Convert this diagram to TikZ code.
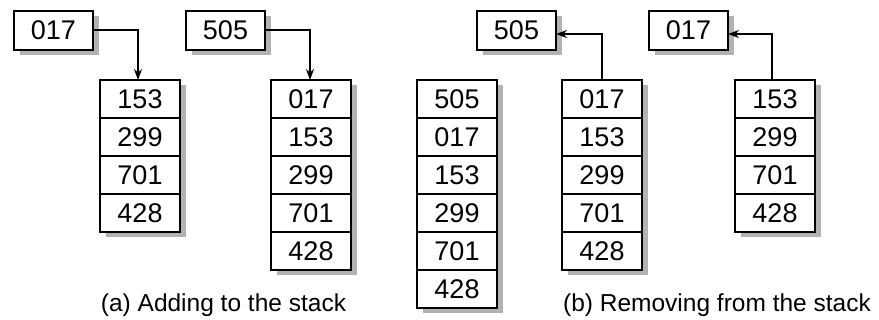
\documentclass[tikz,border=0pt]{standalone}
\usepackage{fontspec}
\setmainfont{Liberation Sans}
\usetikzlibrary{shadows,arrows.meta}
\tikzset{
  cell/.style={draw=black, line width=2.5pt, fill=white, minimum width=80pt, minimum height=38pt,
    inner sep=0pt, outer sep=0pt, font=\fontsize{27}{30}\selectfont,
    drop shadow={shadow xshift=6pt, shadow yshift=-5pt, fill=black!30, opacity=1}},
  topbox/.style={cell, minimum width=79pt, minimum height=39pt},
  conn/.style={draw=black, line width=2.5pt, -{Stealth[length=11pt,width=8pt]}},
  caption/.style={font=\fontsize{24.5}{28}\selectfont, inner sep=0pt}
}
\begin{document}
\begin{tikzpicture}[x=1pt,y=-1pt]
\useasboundingbox (0,0) rectangle (879,320);
% top boxes
\node[topbox] (A1) at (53.5,30.5) {017};
\node[topbox] (A2) at (225.5,30.5) {505};
\node[topbox] (B1) at (516.5,30.5) {505};
\node[topbox] (B2) at (688.5,30.5) {017};
% stack 1
\node[cell] (s1a) at (140,99) {153};
\node[cell] (s1b) at (140,137) {299};
\node[cell] (s1c) at (140,175) {701};
\node[cell] (s1d) at (140,213) {428};
% stack 2
\node[cell] (s2a) at (311,99) {017};
\node[cell] (s2b) at (311,137) {153};
\node[cell] (s2c) at (311,175) {299};
\node[cell] (s2d) at (311,213) {701};
\node[cell] (s2e) at (311,251) {428};
% stack 3
\node[cell] (s3a) at (457,99) {505};
\node[cell] (s3b) at (457,137) {017};
\node[cell] (s3c) at (457,175) {153};
\node[cell] (s3d) at (457,213) {299};
\node[cell] (s3e) at (457,251) {701};
\node[cell] (s3f) at (457,289) {428};
% stack 4
\node[cell] (s4a) at (602,99) {017};
\node[cell] (s4b) at (602,137) {153};
\node[cell] (s4c) at (602,175) {299};
\node[cell] (s4d) at (602,213) {701};
\node[cell] (s4e) at (602,251) {428};
% stack 5
\node[cell] (s5a) at (775,99) {153};
\node[cell] (s5b) at (775,137) {299};
\node[cell] (s5c) at (775,175) {701};
\node[cell] (s5d) at (775,213) {428};
% connectors
\draw[conn] ([yshift=0.5pt]A1.east) -| ([xshift=-2pt]s1a.north);
\draw[conn] ([yshift=0.5pt]A2.east) -| ([xshift=-1pt]s2a.north);
\draw[conn] (s4a.north) |- ([yshift=-3.5pt]B1.east);
\draw[conn] ([xshift=-3pt]s5a.north) |- ([yshift=-3.5pt]B2.east);
% captions
\node[caption] (capa) at (223.5,305) {(a) Adding to the stack};
\node[caption] (capb) at (717,305) {(b) Removing from the stack};
\end{tikzpicture}
\end{document}
